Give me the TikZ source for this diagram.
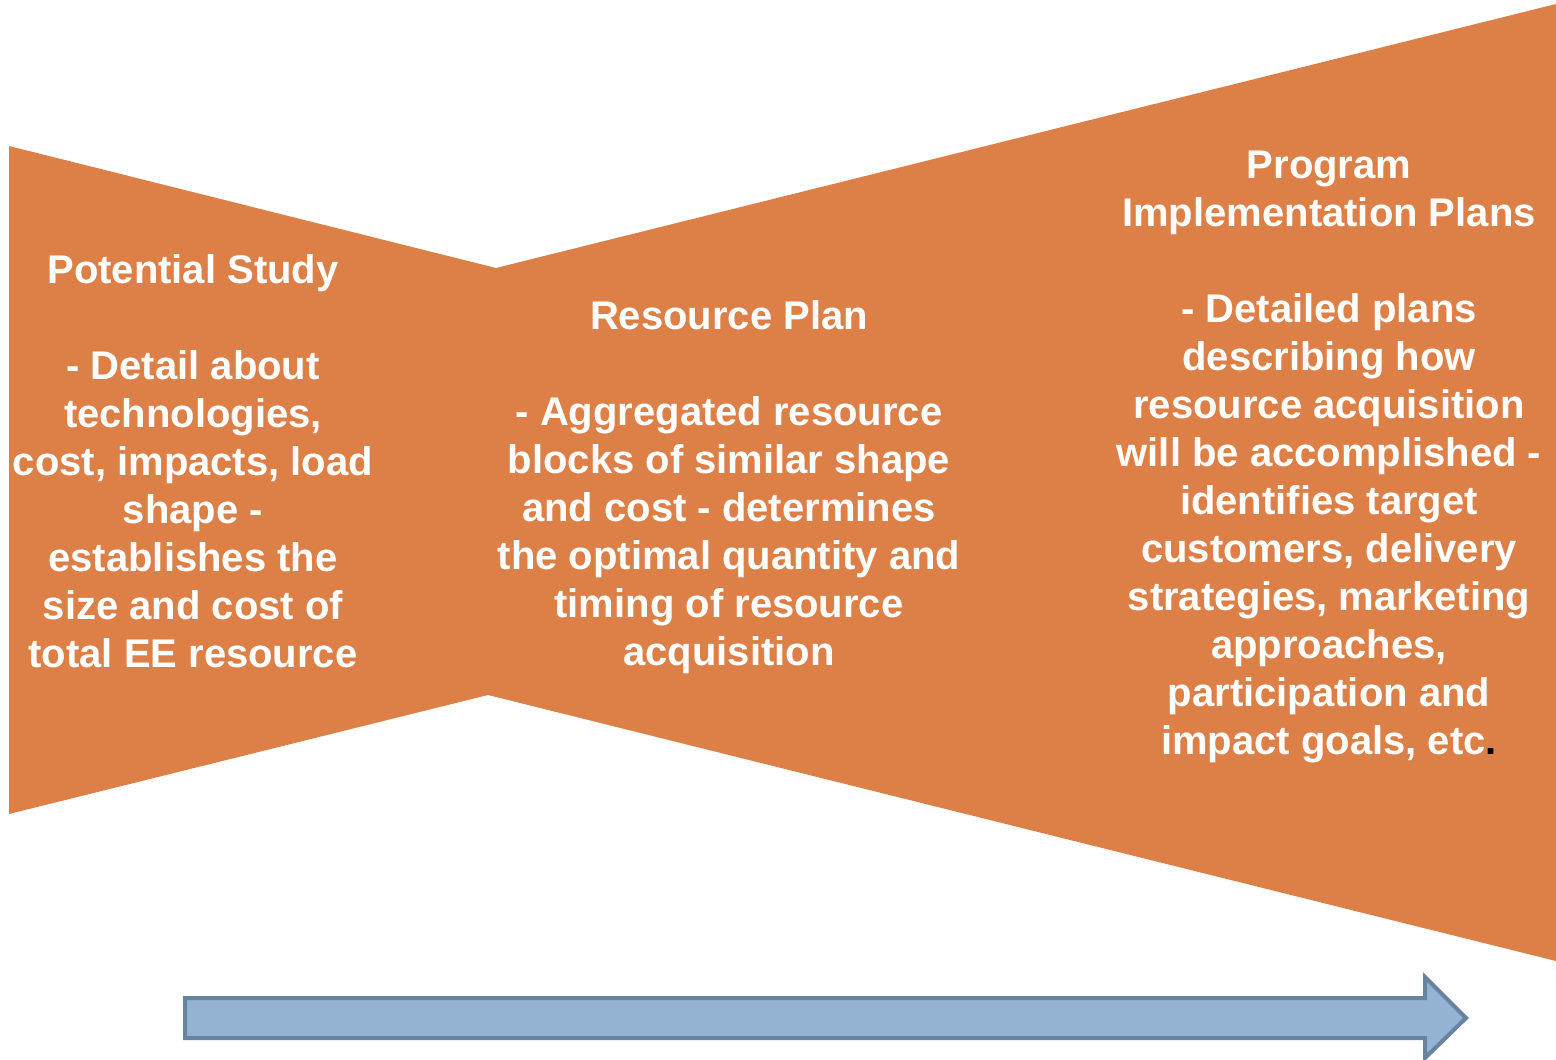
\documentclass[tikz,border=0pt]{standalone}
\usepackage{fontspec}
\setmainfont{Liberation Sans}
\begin{document}
\begin{tikzpicture}[x=1pt,y=-1pt,
  funnel/.style={fill=funnelorange,draw=none},
  stagetext/.style={text=white,align=center,inner sep=0pt,anchor=north,
    font=\fontsize{40}{48}\selectfont\bfseries},
  flowarrow/.style={fill=arrowblue,draw=arrowedge,line width=4pt,line join=miter}]
\definecolor{funnelorange}{RGB}{221,128,72}
\definecolor{arrowblue}{RGB}{148,179,211}
\definecolor{arrowedge}{RGB}{104,131,160}
\useasboundingbox (0,0) rectangle (1556,1060);

% widening funnel of the three planning stages
\fill[funnel] (9,146) -- (496,268) -- (1556,4) -- (1556,961)
  -- (488,695) -- (9,814) -- cycle;

% stage descriptions
\node[stagetext] (potential) at (193,254) {Potential Study\\[48pt]
  - Detail about\\ technologies,\\ cost, impacts, load\\ shape -\\
  establishes the\\ size and cost of\\ total EE resource};
\node[stagetext] (resource) at (729,300) {Resource Plan\\[48pt]
  - Aggregated resource\\ blocks of similar shape\\ and cost - determines\\
  the optimal quantity and\\ timing of resource\\ acquisition};
\node[stagetext] (program) at (1329,151) {Program\\ Implementation Plans\\[48pt]
  - Detailed plans\\ describing how\\ resource acquisition\\
  will be accomplished -\\ identifies target\\ customers, delivery\\
  strategies, marketing\\ approaches,\\ participation and\\
  impact goals, etc\textcolor{black}{.}};

% progression arrow
\draw[flowarrow] (185,998) -- (1425,998) -- (1425,977) -- (1466,1018)
  -- (1425,1058) -- (1425,1038) -- (185,1038) -- cycle;
\end{tikzpicture}
\end{document}
